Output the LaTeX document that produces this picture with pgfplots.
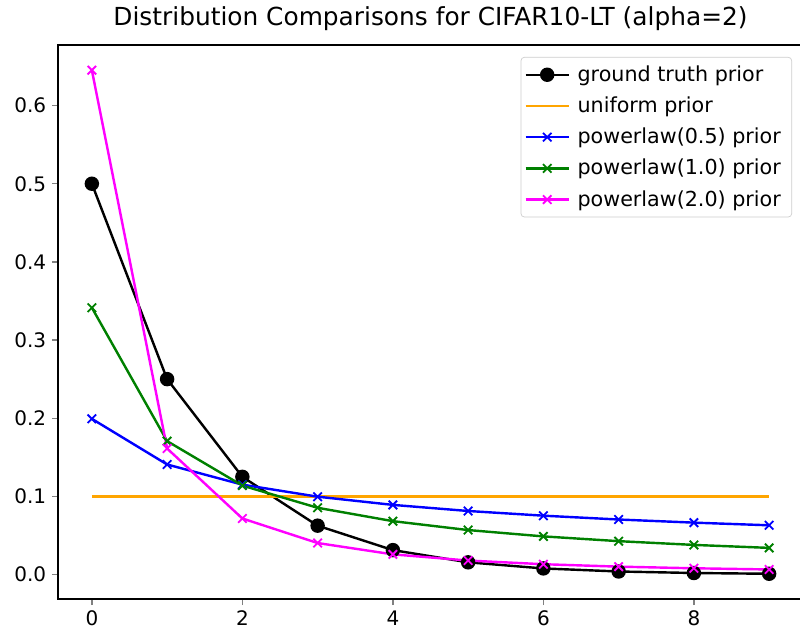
\documentclass[border=0pt]{standalone}
\usepackage{pgfplots}
\pgfplotsset{compat=1.18}
\usepackage{fontspec}
\setmainfont{DejaVu Sans}
\definecolor{mplorange}{HTML}{FFA500}
\definecolor{mplgreen}{HTML}{008000}
\definecolor{mplmagenta}{HTML}{FF00FF}
\definecolor{mplblue}{HTML}{0000FF}
\begin{document}
\begin{tikzpicture}
\begin{axis}[
  scale only axis,
  width=447pt, height=332.4pt,
  xmin=-0.45, xmax=9.45,
  ymin=-0.0313, ymax=0.6775,
  xtick={0,2,4,6,8},
  ytick={0,0.1,0.2,0.3,0.4,0.5,0.6},
  tick pos=left,
  yticklabel style={/pgf/number format/.cd,fixed,fixed zerofill,precision=1},
  /pgf/number format/assume math mode=true,
  tick label style={font=\fontsize{12}{14}\selectfont},
  tick align=outside,
  major tick length=3.6pt,
  major tick style={line width=0.8pt},
  axis line style={black, line width=0.8pt},
  title={Distribution Comparisons for CIFAR10-LT (alpha=2)},
  title style={font=\fontsize{14.9}{17}\selectfont, yshift=-1pt},
  legend style={at={(1,1)}, anchor=north east, xshift=-6.6pt, yshift=-7.2pt,
    draw=black!20, rounded corners=2pt,
    font=\fontsize{12.4}{14.5}\selectfont, row sep=3.8pt, inner xsep=2pt, inner ysep=3pt,
    nodes={inner xsep=4.5pt}},
  legend cell align=left,
  legend image code/.code={\draw[mark repeat=2,mark phase=2,#1] plot coordinates {(0pt,0pt) (13pt,0pt) (26pt,0pt)};},
  every axis plot/.append style={line width=1.45pt},
]
\addplot[black, mark=*, mark size=3.6pt] coordinates {
(0,0.5) (1,0.25) (2,0.125) (3,0.0625) (4,0.03125) (5,0.015625) (6,0.0078) (7,0.0039) (8,0.00195) (9,0.00098)};
\addlegendentry{ground truth prior}
\addplot[mplorange, no marks] coordinates {
(0,0.1) (1,0.1) (2,0.1) (3,0.1) (4,0.1) (5,0.1) (6,0.1) (7,0.1) (8,0.1) (9,0.1)};
\addlegendentry{uniform prior}
\addplot[mplblue, mark=x, mark size=3.6pt, mark options={line width=1.1pt}] coordinates {
(0,0.1992) (1,0.1408) (2,0.1150) (3,0.0996) (4,0.0891) (5,0.0813) (6,0.0753) (7,0.0704) (8,0.0664) (9,0.0630)};
\addlegendentry{powerlaw(0.5) prior}
\addplot[mplgreen, mark=x, mark size=3.6pt, mark options={line width=1.1pt}] coordinates {
(0,0.3414) (1,0.1707) (2,0.1138) (3,0.0854) (4,0.0683) (5,0.0569) (6,0.0488) (7,0.0427) (8,0.0379) (9,0.0341)};
\addlegendentry{powerlaw(1.0) prior}
\addplot[mplmagenta, mark=x, mark size=3.6pt, mark options={line width=1.1pt}] coordinates {
(0,0.6453) (1,0.1613) (2,0.0717) (3,0.0403) (4,0.0258) (5,0.0179) (6,0.0132) (7,0.0101) (8,0.0080) (9,0.0065)};
\addlegendentry{powerlaw(2.0) prior}
\end{axis}
\pgfresetboundingbox
\useasboundingbox ([xshift=-34.8pt,yshift=-19.8pt]current axis.south west) rectangle ([xshift=-1.8pt,yshift=27pt]current axis.north east);
\end{tikzpicture}
\end{document}
